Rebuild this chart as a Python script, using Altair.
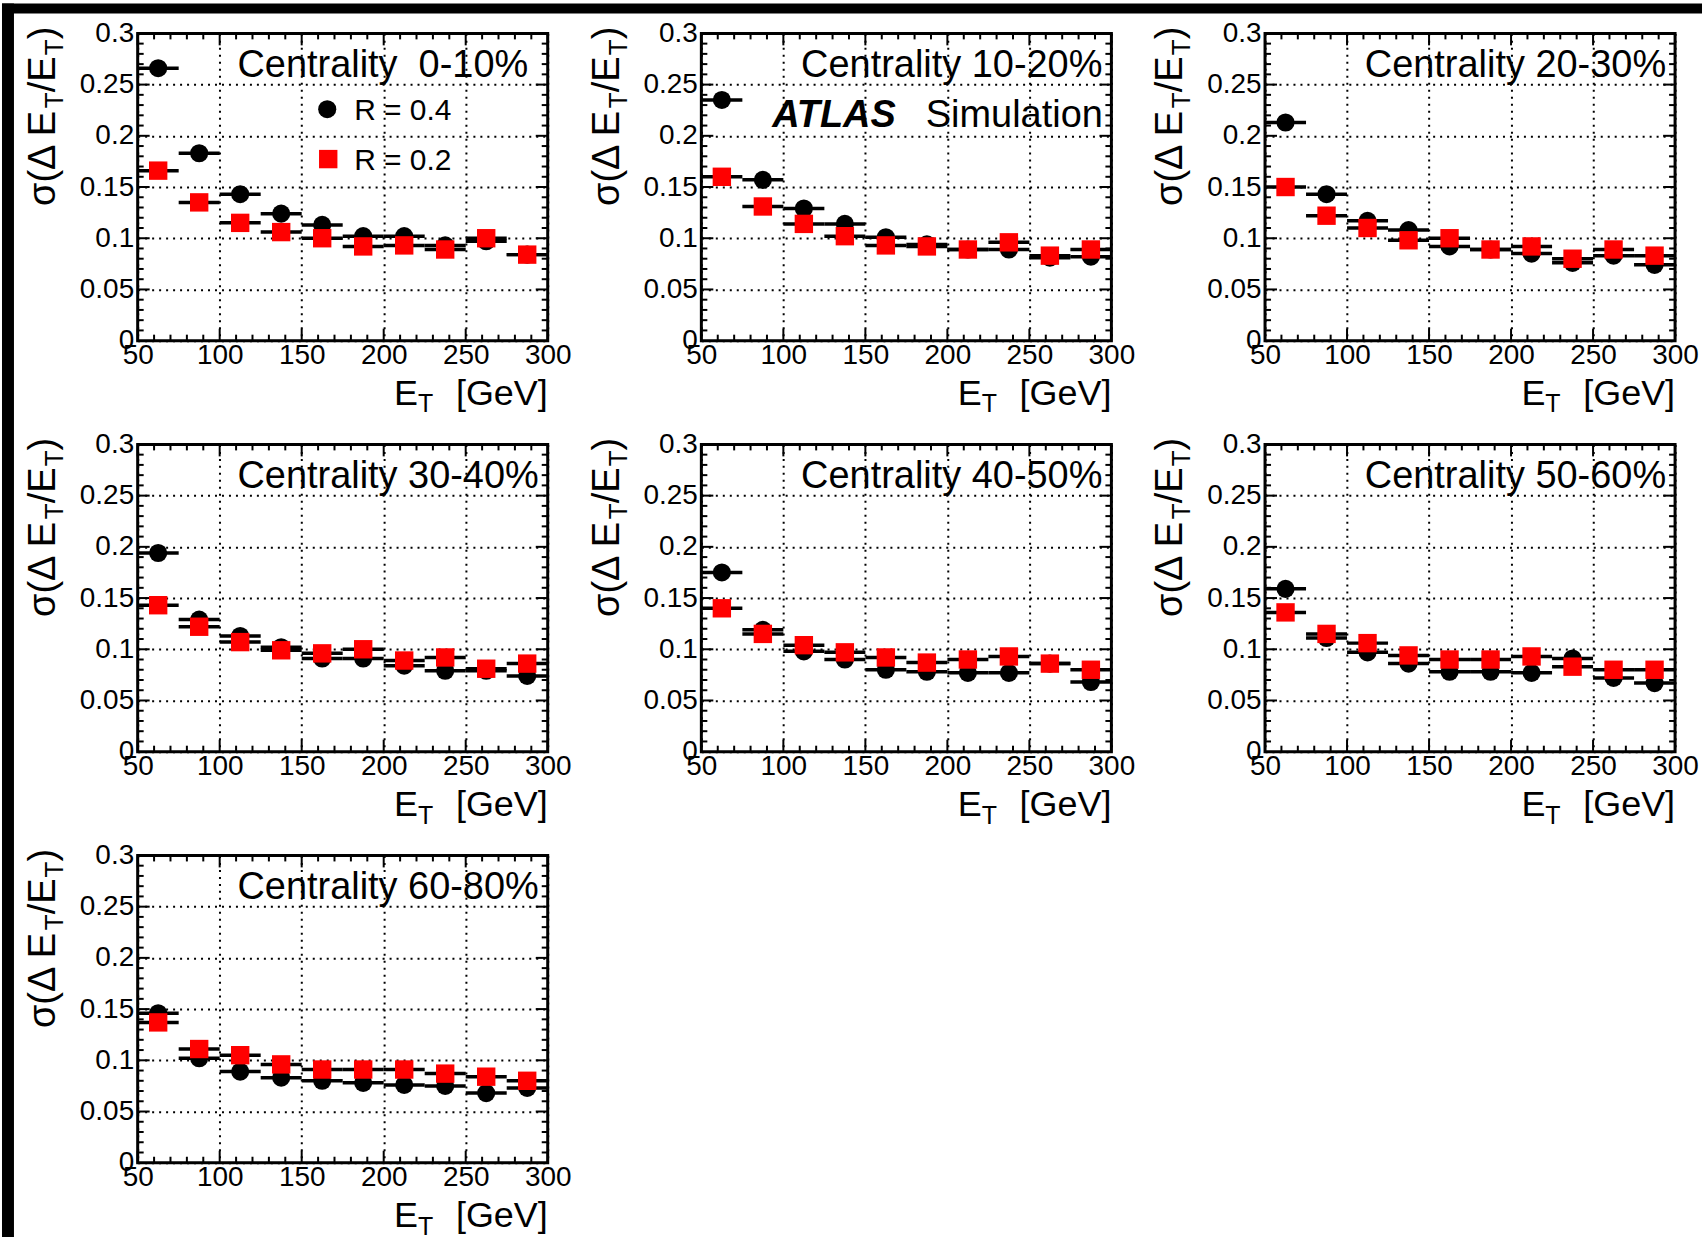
import altair as alt
import pandas as pd

# ---------------- data ----------------
x_centers = [62.5, 87.5, 112.5, 137.5, 162.5, 187.5, 212.5, 237.5, 262.5, 287.5]
bin_half = 12.5

centralities = ["0-10%", "10-20%", "20-30%", "30-40%", "40-50%", "50-60%", "60-80%"]
panel_titles = ["Centrality\u00a0\u00a00-10%", "Centrality 10-20%", "Centrality 20-30%",
                "Centrality 30-40%", "Centrality 40-50%", "Centrality 50-60%",
                "Centrality 60-80%"]

r04_0_10 = [0.266, 0.183, 0.143, 0.124, 0.113, 0.102, 0.102, 0.093, 0.097, 0.084]
r02_0_10 = [0.166, 0.135, 0.115, 0.106, 0.100, 0.092, 0.093, 0.089, 0.100, 0.084]
r04_10_20 = [0.235, 0.157, 0.129, 0.114, 0.101, 0.094, 0.089, 0.089, 0.081, 0.082]
r02_10_20 = [0.160, 0.131, 0.114, 0.102, 0.093, 0.092, 0.089, 0.096, 0.083, 0.089]
r04_20_30 = [0.213, 0.143, 0.117, 0.108, 0.092, 0.089, 0.085, 0.076, 0.083, 0.074]
r02_20_30 = [0.150, 0.122, 0.110, 0.098, 0.100, 0.089, 0.092, 0.080, 0.089, 0.083]
r04_30_40 = [0.194, 0.129, 0.113, 0.102, 0.091, 0.091, 0.084, 0.079, 0.079, 0.074]
r02_30_40 = [0.143, 0.122, 0.107, 0.099, 0.096, 0.100, 0.089, 0.092, 0.081, 0.086]
r04_40_50 = [0.175, 0.119, 0.098, 0.090, 0.080, 0.078, 0.077, 0.077, 0.086, 0.068]
r02_40_50 = [0.140, 0.115, 0.104, 0.097, 0.092, 0.087, 0.090, 0.093, 0.086, 0.080]
r04_50_60 = [0.159, 0.111, 0.097, 0.086, 0.078, 0.078, 0.077, 0.091, 0.072, 0.067]
r02_50_60 = [0.136, 0.115, 0.106, 0.094, 0.090, 0.090, 0.093, 0.083, 0.080, 0.080]
r04_60_80 = [0.146, 0.102, 0.089, 0.083, 0.080, 0.078, 0.076, 0.075, 0.068, 0.073]
r02_60_80 = [0.137, 0.111, 0.105, 0.096, 0.091, 0.091, 0.091, 0.087, 0.084, 0.080]

r04 = [r04_0_10, r04_10_20, r04_20_30, r04_30_40, r04_40_50, r04_50_60, r04_60_80]
r02 = [r02_0_10, r02_10_20, r02_20_30, r02_30_40, r02_40_50, r02_50_60, r02_60_80]

x_label_values = [50, 100, 150, 200, 250, 300]
y_label_values = [0, 0.05, 0.1, 0.15, 0.2, 0.25, 0.3]
x_major_ticks = [50, 100, 150, 200, 250, 300]
x_minor_ticks = [60, 70, 80, 90, 110, 120, 130, 140, 160, 170, 180, 190,
                 210, 220, 230, 240, 260, 270, 280, 290]
y_major_ticks = [0.05, 0.1, 0.15, 0.2, 0.25]
y_minor_ticks = [0.01, 0.02, 0.03, 0.04, 0.06, 0.07, 0.08, 0.09, 0.11, 0.12, 0.13, 0.14,
                 0.16, 0.17, 0.18, 0.19, 0.21, 0.22, 0.23, 0.24, 0.26, 0.27, 0.28, 0.29]

# ---------------- style ----------------
W, H = 411, 308
FONT = "Liberation Sans"
MAJ, MIN = 12, 6
CIRCLE_SIZE, SQUARE_SIZE = 330, 340

xs = alt.Scale(domain=[50, 300], nice=False, zero=False)
ys = alt.Scale(domain=[0, 0.3], nice=False, zero=False)

one = pd.DataFrame({"a": [0]})


def text(t, x, y, size, **kw):
    return alt.Chart(one).mark_text(text=t, font=FONT, fontSize=size, color="black",
                                    **kw).encode(x=alt.value(x), y=alt.value(y))


def panel(i):
    df = pd.DataFrame({
        "et": x_centers * 2,
        "sigma": r04[i] + r02[i],
        "series": ["R = 0.4"] * 10 + ["R = 0.2"] * 10,
    })
    df["lo"] = df["et"] - bin_half
    df["hi"] = df["et"] + bin_half

    xaxis = alt.Axis(values=x_label_values, title=None, ticks=False, domain=False,
                     grid=True, labelPadding=1, format="d")
    yaxis = alt.Axis(values=y_label_values, title=None, ticks=False, domain=False,
                     grid=True, labelPadding=4,
                     labelExpr="format(datum.value, '~g')")

    base = alt.Chart(df)
    layers = []

    # invisible layer carrying axes and grid
    layers.append(base.mark_point(opacity=0).encode(
        x=alt.X("et:Q", scale=xs, axis=xaxis),
        y=alt.Y("sigma:Q", scale=ys, axis=yaxis)))

    # inward ticks on all four sides
    xt_maj = alt.Chart(pd.DataFrame({"t": x_major_ticks}))
    xt_min = alt.Chart(pd.DataFrame({"t": x_minor_ticks}))
    yt_maj = alt.Chart(pd.DataFrame({"t": y_major_ticks}))
    yt_min = alt.Chart(pd.DataFrame({"t": y_minor_ticks}))
    for src, ln in ((xt_maj, MAJ), (xt_min, MIN)):
        layers.append(src.mark_rule(color="black", strokeWidth=2).encode(
            x=alt.X("t:Q", scale=xs), y=alt.value(H), y2=alt.value(H - ln)))
        layers.append(src.mark_rule(color="black", strokeWidth=2).encode(
            x=alt.X("t:Q", scale=xs), y=alt.value(0), y2=alt.value(ln)))
    for src, ln in ((yt_maj, MAJ), (yt_min, MIN)):
        layers.append(src.mark_rule(color="black", strokeWidth=2).encode(
            y=alt.Y("t:Q", scale=ys), x=alt.value(0), x2=alt.value(ln)))
        layers.append(src.mark_rule(color="black", strokeWidth=2).encode(
            y=alt.Y("t:Q", scale=ys), x=alt.value(W), x2=alt.value(W - ln)))

    # series: R = 0.4 (black circles), then R = 0.2 (red squares)
    for ser, shape, color, size in (("R = 0.4", "circle", "black", CIRCLE_SIZE),
                                    ("R = 0.2", "square", "#ff0000", SQUARE_SIZE)):
        sub = base.transform_filter(alt.datum.series == ser)
        layers.append(sub.mark_rule(color="black", strokeWidth=3.5).encode(
            x=alt.X("lo:Q", scale=xs), x2="hi:Q",
            y=alt.Y("sigma:Q", scale=ys)))
        layers.append(sub.mark_point(shape=shape, filled=True, color=color,
                                     opacity=1, size=size).encode(
            x=alt.X("et:Q", scale=xs), y=alt.Y("sigma:Q", scale=ys)))

    # centrality label
    layers.append(text(panel_titles[i], 100, 44, 38, align="left",
                       baseline="alphabetic"))

    # x title: E_T [GeV]
    layers.append(text("E", 257, H + 64, 36, align="left", baseline="alphabetic"))
    layers.append(text("T", 281, H + 72, 25, align="left", baseline="alphabetic"))
    layers.append(text("[GeV]", W, H + 64, 36, align="right", baseline="alphabetic"))

    # y title: sigma(Delta E_T/E_T)
    yb = -83
    layers.append(text("σ(Δ E", yb, 173, 38, align="left", baseline="alphabetic", angle=270))
    layers.append(text("T", yb + 8, 75, 26, align="left", baseline="alphabetic", angle=270))
    layers.append(text("/E", yb, 59, 38, align="left", baseline="alphabetic", angle=270))
    layers.append(text("T", yb + 8, 22, 26, align="left", baseline="alphabetic", angle=270))
    layers.append(text(")", yb, 6, 38, align="left", baseline="alphabetic", angle=270))

    if i == 0:
        # legend
        layers.append(alt.Chart(one).mark_point(shape="circle", filled=True, color="black",
                                                opacity=1, size=CIRCLE_SIZE).encode(
            x=alt.value(190), y=alt.value(76)))
        layers.append(alt.Chart(one).mark_point(shape="square", filled=True, color="#ff0000",
                                                opacity=1, size=SQUARE_SIZE).encode(
            x=alt.value(191), y=alt.value(126)))
        layers.append(text("R = 0.4", 217, 87, 30, align="left", baseline="alphabetic"))
        layers.append(text("R = 0.2", 217, 137, 30, align="left", baseline="alphabetic"))
        # black frame strips of the original image (top and left edges)
        layers.append(alt.Chart(one).mark_rect(color="black").encode(
            x=alt.value(-136), x2=alt.value(-124), y=alt.value(-30), y2=alt.value(1237 - 30)))
        layers.append(alt.Chart(one).mark_rect(color="black").encode(
            x=alt.value(-136), x2=alt.value(1704 - 136), y=alt.value(-30), y2=alt.value(-20)))
    if i == 1:
        layers.append(text("ATLAS", 71, 94, 38, align="left", baseline="alphabetic",
                           fontStyle="italic", fontWeight="bold"))
        layers.append(text("Simulation", 225, 94, 38, align="left", baseline="alphabetic"))

    return alt.layer(*layers).properties(width=W, height=H)


panels = [panel(i) for i in range(len(centralities))]

chart = alt.concat(
    *panels, columns=3, spacing={"row": 104, "column": 154}, bounds="flush"
).properties(
    padding=0
).configure_view(
    stroke="black", strokeWidth=3
).configure_axis(
    labelFont=FONT, labelFontSize=28, labelColor="black",
    gridColor="black", gridDash=[2, 5], gridWidth=2, gridOpacity=1,
    labelOverlap=False, labelFlush=False, labelBound=False
)

chart.save("out.html", embed_options={"renderer": "svg", "actions": False})
